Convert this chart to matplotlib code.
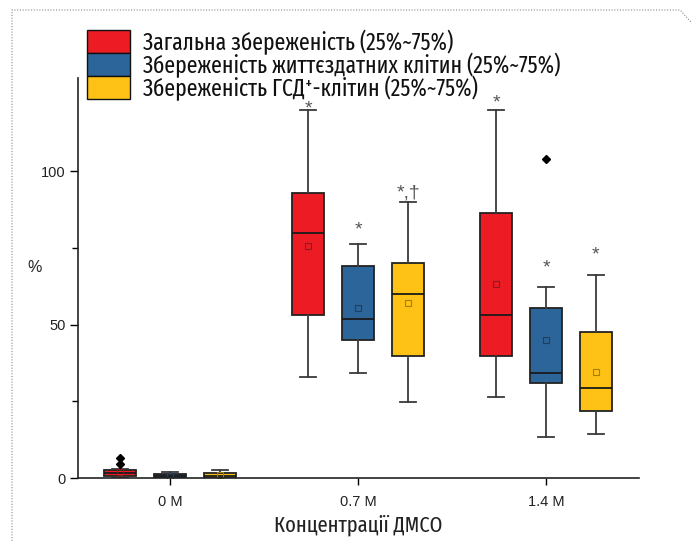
"""
Box plots of cell survival (%) at three DMSO concentrations.
"""
import matplotlib
matplotlib.use('Agg')
import matplotlib.pyplot as plt
import matplotlib.transforms as mtransforms
from matplotlib.lines import Line2D
from matplotlib.patches import Rectangle

# ---- data ----
groups = ['0 M', '0.7 M', '1.4 M']
series_labels = ['Загальна збереженість (25%~75%)',
                 'Збереженість життєздатних клітин (25%~75%)',
                 'Збереженість ГСД⁺-клітин (25%~75%)']
colors = ['#ED1C24', '#2C6599', '#FEC216']
mean_colors = ['#8E1A1E', '#1E3F60', '#A57E0E']

# per series, per group: whisker low, Q1, median, Q3, whisker high
red_box = [[0.2, 0.8, 1.5, 2.6, 3.0],
           [33.0, 53.1, 79.7, 93.0, 120.0],
           [26.4, 39.7, 53.0, 86.4, 119.9]]
blue_box = [[0.0, 0.0, 0.7, 1.3, 2.1],
            [34.3, 44.9, 51.8, 69.2, 76.2],
            [13.5, 30.8, 34.3, 55.3, 62.2]]
yellow_box = [[0.0, 0.0, 0.8, 1.5, 2.7],
              [24.9, 39.8, 59.9, 69.9, 90.0],
              [14.3, 21.8, 29.2, 47.4, 66.1]]
red_mean = [1.9, 75.7, 63.1]
blue_mean = [0.6, 55.3, 44.9]
yellow_mean = [0.9, 56.9, 34.6]
red_fliers = [[4.5, 6.4], [], []]
blue_fliers = [[], [], [103.9]]
yellow_fliers = [[], [], []]

# significance marks: (series index, group index, y value, text)
marks = [(0, 1, 121.8, '*'), (1, 1, 82.4, '*'), (2, 1, 94.5, '*,†'),
         (0, 2, 123.8, '*'), (1, 2, 70.0, '*'), (2, 2, 74.3, '*')]

xlabel = 'Концентрації ДМСО'
ylabel = '%'

NARROW = ['Fira Sans Extra Condensed', 'Fira Sans Condensed', 'Open Sans Condensed', 'DejaVu Sans']
ARIAL = ['Liberation Sans', 'DejaVu Sans']

fig = plt.figure(figsize=(6.91, 5.41), dpi=100)
W, H = 691.0, 541.0
ax = fig.add_axes([78 / W, 1 - 478 / H, (639 - 78) / W, (478 - 78) / H])

offsets = [-0.266, 0.0, 0.266]
all_boxes = [red_box, blue_box, yellow_box]
all_means = [red_mean, blue_mean, yellow_mean]
all_fliers = [red_fliers, blue_fliers, yellow_fliers]

for si in range(3):
	stats = []
	for gi in range(3):
		lo, q1, med, q3, hi = all_boxes[si][gi]
		stats.append(dict(whislo=lo, q1=q1, med=med, q3=q3, whishi=hi,
			mean=all_means[si][gi], fliers=all_fliers[si][gi]))
	pos = [gi + 1 + offsets[si] for gi in range(3)]
	ax.bxp(stats, positions=pos, widths=0.17, capwidths=0.085,
		patch_artist=True, showmeans=True, manage_ticks=False,
		boxprops=dict(facecolor=colors[si], edgecolor='#222222', linewidth=1.3),
		medianprops=dict(color='#1a1a1a', linewidth=1.3),
		whiskerprops=dict(color='#3a3a3a', linewidth=1.3),
		capprops=dict(color='#3a3a3a', linewidth=1.3),
		meanprops=dict(marker='s', markersize=4, markerfacecolor='none',
			markeredgecolor=mean_colors[si], markeredgewidth=0.8),
		flierprops=dict(marker='D', markersize=4.5, markerfacecolor='black',
			markeredgecolor='black'))

# asterisk glyph sits high in its box, so nudge it down a few pixels
star_tr = mtransforms.offset_copy(ax.transData, fig=fig, x=0, y=-5, units='dots')
for si, gi, y, txt in marks:
	ax.text(gi + 1 + offsets[si], y, txt, ha='center', va='center',
		fontsize=14, color='#555555', family=ARIAL, transform=star_tr)

ax.set_xlim(0.51, 3.495)
ax.set_ylim(0, 130.3)
ax.set_xticks([1, 2, 3])
ax.set_xticklabels(groups, family=ARIAL, fontsize=10.5, color='#222222')
ax.set_yticks([0, 50, 100])
ax.set_yticks([25, 75], minor=True)
ax.set_yticklabels(['0', '50', '100'], family=ARIAL, fontsize=10.5, color='#222222')
ax.tick_params(axis='x', direction='out', length=5, width=1, pad=7)
ax.tick_params(axis='y', which='major', direction='out', length=6, width=1, pad=3)
ax.tick_params(axis='y', which='minor', direction='out', length=4, width=1)
for side in ['top', 'right']:
	ax.spines[side].set_visible(False)
for side in ['left', 'bottom']:
	ax.spines[side].set_linewidth(1.2)
	ax.spines[side].set_color('#222222')

fig.text(358 / W, 1 - 525 / H, xlabel, ha='center', va='center',
	fontsize=16, family=NARROW, color='#222222')
fig.text(35 / W, 1 - 268 / H, ylabel, ha='center', va='center',
	fontsize=11.5, family=ARIAL, color='#222222')

# legend drawn by hand: stacked swatches, no gap
row_tops = [30, 53, 76]
for si in range(3):
	top = row_tops[si]
	fig.add_artist(Rectangle((87 / W, 1 - (top + 23) / H), 43 / W, 23 / H,
		transform=fig.transFigure, facecolor=colors[si], edgecolor='#111111',
		linewidth=1.0))
	fig.text(143 / W, 1 - (top + 12) / H, series_labels[si], ha='left',
		va='center', fontsize=17, family=NARROW, color='#111111')

# dotted page border
fig.add_artist(Line2D([12 / W, 12 / W, 680 / W, 691 / W],
	[0, 1 - 10 / H, 1 - 10 / H, 1 - 22 / H], transform=fig.transFigure,
	color='#888888', linewidth=0.8, linestyle=(0, (1, 1.5))))

fig.savefig('out.png', dpi=100)
